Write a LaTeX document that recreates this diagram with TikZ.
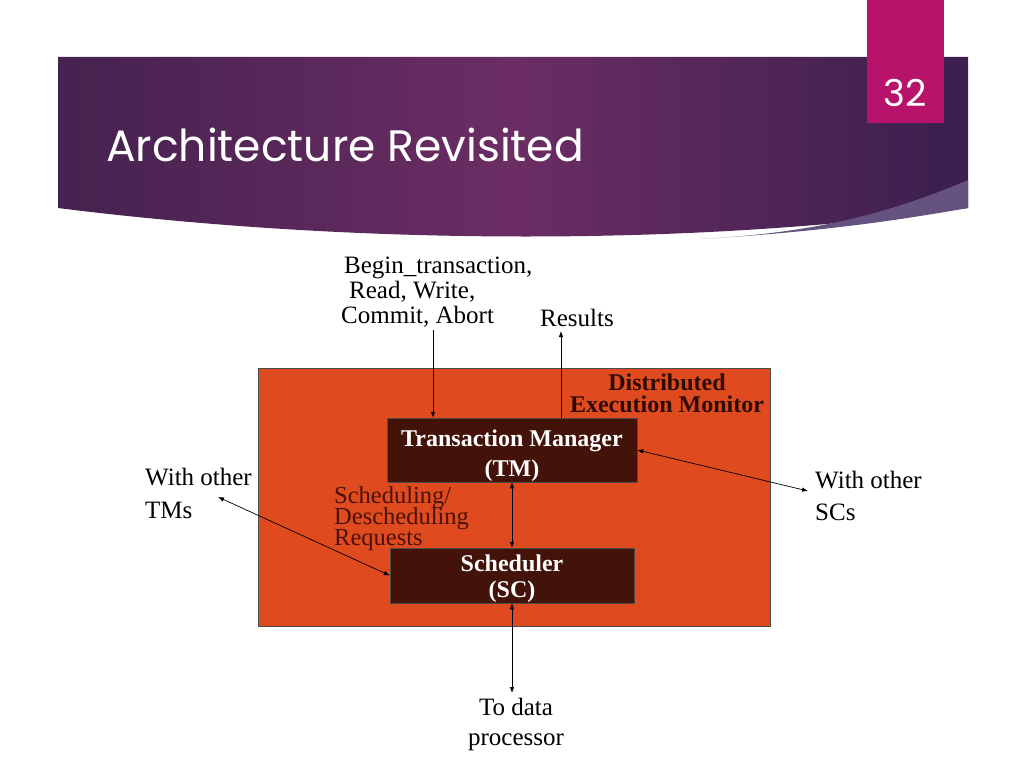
\documentclass[tikz,border=0pt]{standalone}
\usepackage{fontspec}
\setmainfont{Liberation Serif}
\newfontfamily\titlefont{Poppins}
\usetikzlibrary{arrows.meta}
\definecolor{tabpink}{HTML}{B8136A}
\definecolor{bandleft}{HTML}{45224F}
\definecolor{bandmid}{HTML}{6B2D63}
\definecolor{bandright}{HTML}{3A1F4E}
\definecolor{bandlight}{HTML}{66527E}
\definecolor{monorange}{HTML}{E04A1F}
\definecolor{blkbrown}{HTML}{431208}
\definecolor{reqbrown}{HTML}{4A1206}
\newcommand\tightlines{\lineskiplimit=-20pt\relax\lineskip=0pt\relax}
\begin{document}
\begin{tikzpicture}[x=1pt,y=-1pt,
	lbl/.style={align=center,inner sep=0pt,font=\fontsize{25}{27}\selectfont},
	blk/.style={fill=blkbrown,draw=black!70,text=white,align=center,inner sep=0pt},
	arr/.style={-{Latex[length=6pt,width=4.5pt]},line width=0.7pt},
	dbl/.style={{Latex[length=6pt,width=4.5pt]}-{Latex[length=6pt,width=4.5pt]},line width=0.7pt}]
	\useasboundingbox (0,0) rectangle (1024,768);
	% title band
	\shade[left color=bandleft,right color=bandright,middle color=bandmid]
		(58,57) -- (968,57) -- (968,208) .. controls (700,246) and (360,246) .. (58,208) -- cycle;
	\fill[bandlight] (968,180) .. controls (870,222) and (790,234) .. (700,239)
		.. controls (820,232) and (900,220) .. (968,208) -- cycle;
	\fill[tabpink] (867,0) rectangle (944,123);
	\node[text=white,font=\titlefont\fontsize{37}{37}\selectfont] (pg) at (905.5,93) {32};
	\node[anchor=base west,inner sep=0pt,text=white,font=\titlefont\fontsize{44}{44}\selectfont] (title) at (106,161) {Architecture Revisited};
	% execution monitor
	\node[fill=monorange,draw=black!70,minimum width=512pt,minimum height=258pt] (dem) at (514,497) {};
	\node[align=center,inner sep=0pt,text=reqbrown!60!black,font=\bfseries\fontsize{24}{22}\selectfont\tightlines] (demlbl) at (667,393) {Distributed\\Execution Monitor};
	\node[blk,minimum width=250pt,minimum height=62pt,font=\bfseries\fontsize{24}{30}\selectfont] (tm) at (512,450) {\rule{0pt}{29pt}Transaction Manager\\(TM)};
	\node[blk,minimum width=244pt,minimum height=53pt,font=\bfseries\fontsize{24}{26}\selectfont] (sc) at (512,575.5) {\rule{0pt}{24pt}Scheduler\\(SC)};
	\node[anchor=north west,align=left,inner sep=0pt,text=reqbrown,font=\fontsize{24.5}{21}\selectfont\tightlines] (reqlbl) at (334,486) {Scheduling/\\Descheduling\\Requests};
	% outside labels
	\node[lbl,align=left,anchor=north west,font=\fontsize{25}{25}\selectfont] (cmds) at (341,257) {\hspace{3pt}Begin\_transaction,\\\hspace{8pt}Read, Write,\\Commit, Abort};
	\node[lbl] (results) at (577,318) {Results};
	\node[lbl,align=left,anchor=north west,font=\fontsize{25}{33}\selectfont] (tms) at (145,468) {With other\\TMs};
	\node[lbl,align=left,anchor=north west,font=\fontsize{25}{32}\selectfont] (scs) at (815,471) {With other\\SCs};
	\node[lbl,font=\fontsize{25}{30}\selectfont] (dp) at (516,724) {To data\\processor};
	\coordinate (cmdend) at (433,330);
	\coordinate (resend) at (561,331);
	\coordinate (tmsend) at (218,497);
	\coordinate (scsend) at (808,491);
	\coordinate (dpend) at (512,693);
	% connectors
	\draw[arr] (cmdend) -- (cmdend |- tm.north);
	\draw[arr] (resend |- tm.north) -- (resend);
	\draw[dbl] (tm) -- (sc);
	\draw[dbl] (tmsend) -- (sc.west);
	\draw[dbl] (tm.east) -- (scsend);
	\draw[dbl] (sc.south) -- (dpend);
\end{tikzpicture}
\end{document}
